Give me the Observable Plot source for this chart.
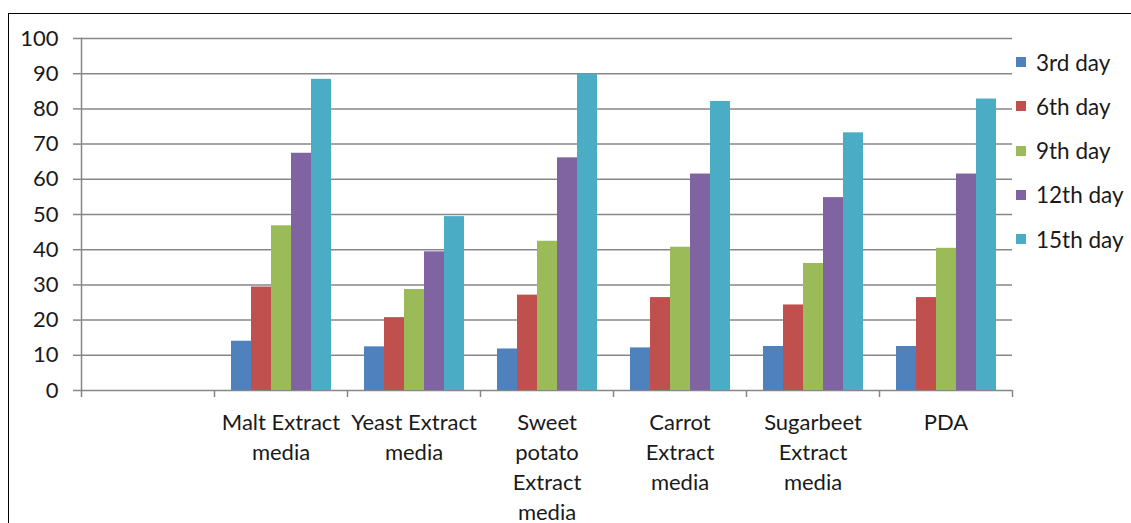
<!DOCTYPE html>
<html>
<head>
<meta charset="utf-8">
<script src="https://cdn.jsdelivr.net/npm/d3@7"></script>
<script src="https://cdn.jsdelivr.net/npm/@observablehq/plot@0.6"></script>
<style>
  html, body { margin: 0; padding: 0; background: #fff; }
  #wrap { position: relative; width: 1131px; height: 523px; overflow: hidden; font-family: Lato, "Liberation Sans", sans-serif; }
  #border { position: absolute; left: 8px; top: 13px; width: 1140px; height: 560px; border: 1px solid #000; box-sizing: border-box; }
  #chart { position: absolute; left: 0; top: 0; }
  #legend { position: absolute; left: 1016px; top: 0; }
  .item { position: absolute; left: 0; display: flex; align-items: center; white-space: nowrap; font-size: 22.5px; color: #1a1a1a; height: 30px; }
  .sw { width: 10px; height: 10px; margin-right: 10px; }
</style>
</head>
<body>
<div id="wrap">
  <div id="border"></div>
  <div id="chart"></div>
  <div id="legend"></div>
</div>
<script>
// ---- data ----
const days = ["3rd day", "6th day", "9th day", "12th day", "15th day"];
const colors = ["#4F81BD", "#C0504D", "#9BBB59", "#8064A2", "#4BACC6"];
const media = ["Malt Extract media", "Yeast Extract media", "Sweet potato Extract media", "Carrot Extract media", "Sugarbeet Extract media", "PDA"];
const mediaLabels = ["Malt Extract\nmedia", "Yeast Extract\nmedia", "Sweet\npotato\nExtract\nmedia", "Carrot\nExtract\nmedia", "Sugarbeet\nExtract\nmedia", "PDA"];
const day3  = [14.0, 12.4, 11.8, 12.1, 12.5, 12.5];
const day6  = [29.4, 20.7, 27.1, 26.4, 24.3, 26.4];
const day9  = [46.8, 28.7, 42.4, 40.7, 36.1, 40.4];
const day12 = [67.4, 39.4, 66.1, 61.5, 54.8, 61.5];
const day15 = [88.4, 49.4, 89.9, 82.1, 73.2, 82.8];
const yTicks = [0, 10, 20, 30, 40, 50, 60, 70, 80, 90, 100];

// ---- derived tables ----
const series = [day3, day6, day9, day12, day15];
const fxDomain = ["", ...media];
const labelMap = new Map([["", ""], ...media.map((m, i) => [m, mediaLabels[i]])]);
const rows = media.flatMap((m, i) => days.map((d, j) => ({media: m, day: d, value: series[j][i]})));
const gridRows = fxDomain.flatMap(m => yTicks.map(t => ({media: m, value: t})));

const W = 1131, H = 523;
const mL = 81, mR = 119;
const band = (W - mL - mR) / fxDomain.length;
const gray = "#878787";
const font = "Lato, 'Liberation Sans', sans-serif";

const chart = Plot.plot({
  width: W, height: H,
  marginLeft: mL, marginRight: mR, marginTop: 38, marginBottom: 133,
  style: {fontFamily: font, fontSize: "22px", color: "#1a1a1a", background: "transparent"},
  fx: {domain: fxDomain, padding: 0, axis: null, label: null},
  x: {domain: days, paddingInner: 0, paddingOuter: 0.76, axis: null},
  y: {domain: [0, 100], axis: null},
  color: {domain: days, range: colors},
  marks: [
    Plot.ruleY(gridRows, {fx: "media", y: "value", stroke: gray, strokeWidth: 1.5}),
    Plot.frame({anchor: "left", facetAnchor: "left", stroke: gray, strokeWidth: 1.5}),
    Plot.axisY({ticks: yTicks, tickSize: 8, tickPadding: 15, stroke: gray, strokeWidth: 1.5, fontSize: 22, label: null}),
    Plot.barY(rows, {fx: "media", x: "day", y: "value", fill: "day"}),
    Plot.axisFx({anchor: "bottom", ticks: fxDomain, tickSize: 7, tickFormat: () => "", dx: -band / 2, stroke: gray, strokeWidth: 1.5, label: null}),
    Plot.axisFx({anchor: "bottom", ticks: [fxDomain[fxDomain.length - 1]], tickSize: 7, tickFormat: () => "", dx: band / 2, stroke: gray, strokeWidth: 1.5, label: null}),
    Plot.axisFx({anchor: "bottom", ticks: fxDomain, tickSize: 0, tickPadding: 18, tickFormat: d => labelMap.get(d), lineHeight: 1.364, fontSize: 22, label: null})
  ]
});
document.getElementById("chart").appendChild(chart);

// ---- legend ----
const legend = document.getElementById("legend");
days.forEach((d, i) => {
  const item = document.createElement("div");
  item.className = "item";
  item.style.top = (47 + i * 44.3) + "px";
  const sw = document.createElement("span");
  sw.className = "sw";
  sw.style.background = colors[i];
  const tx = document.createElement("span");
  tx.textContent = d;
  item.appendChild(sw);
  item.appendChild(tx);
  legend.appendChild(item);
});
</script>
</body>
</html>
